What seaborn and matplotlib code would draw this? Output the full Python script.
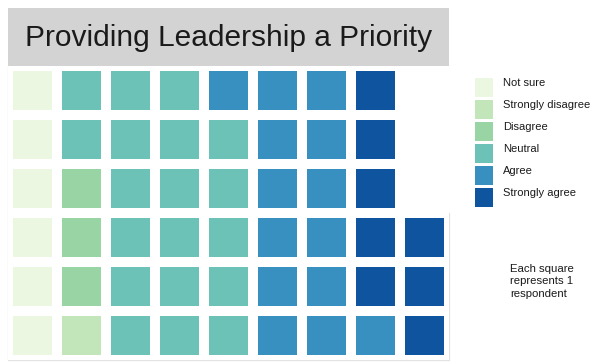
import numpy as np
import matplotlib
matplotlib.use("Agg")
import matplotlib.pyplot as plt
from matplotlib.colors import ListedColormap
from matplotlib.patches import Rectangle
import seaborn as sns

title = "Providing Leadership a Priority"
categories = ["Not sure", "Strongly disagree", "Disagree", "Neutral", "Agree", "Strongly agree"]
counts = [6, 1, 3, 19, 14, 8]
colors = ["#ecf7e2", "#c2e5b9", "#98d4a4", "#6cc2b6", "#3790c0", "#0f549e"]
note = "Each square\nrepresents 1\nrespondent"
n_rows = 6

sns.set_theme(style="white")
plt.rcParams["font.family"] = ["Liberation Sans", "DejaVu Sans"]

# build waffle grid: fill column-major, bottom to top
codes = np.repeat(np.arange(len(categories)), counts)
n_cols = int(np.ceil(len(codes) / n_rows))
grid = np.full((n_rows, n_cols), np.nan)
for i, c in enumerate(codes):
    col = i // n_rows
    row = n_rows - 1 - (i % n_rows)
    grid[row, col] = c
n_last = len(codes) - (n_cols - 1) * n_rows

fig = plt.figure(figsize=(6, 3.63), dpi=100)
W, H = 600, 363

# title box
fig.patches.append(Rectangle((8 / W, 1 - 66 / H), 441 / W, 58 / H,
                             transform=fig.transFigure, facecolor="#d3d3d3",
                             edgecolor="none", zorder=0))
fig.text((8 + 441 / 2) / W, 1 - 38 / H, title, ha="center", va="center",
         fontsize=21.5, color="#1a1a1a")

ax = fig.add_axes([8 / W, 1 - 360 / H, 441 / W, 294 / H])
cmap = ListedColormap(colors)
sns.heatmap(grid, ax=ax, cmap=cmap, vmin=-0.5, vmax=len(categories) - 0.5,
            cbar=False, linewidths=5.8, linecolor="white", square=False,
            xticklabels=False, yticklabels=False)
ax.set_facecolor("white")
# faint outline around the filled area
ox = [0, n_cols - 1, n_cols - 1, n_cols, n_cols, 0, 0]
oy = [0, 0, n_rows - n_last, n_rows - n_last, n_rows, n_rows, 0]
ax.plot(ox, oy, color="#e2e2e2", lw=0.9, clip_on=False, zorder=0.5)

# legend (key squares with labels)
for i, (c, lab) in enumerate(zip(colors, categories)):
    top = 78 + 22 * i
    fig.patches.append(Rectangle((475 / W, 1 - (top + 19) / H), 18 / W, 19 / H,
                                 transform=fig.transFigure, facecolor=c,
                                 edgecolor="none"))
    fig.text(503 / W, 1 - (top + 4.5) / H, lab, ha="left", va="center",
             fontsize=8, color="#1a1a1a")

fig.text(510 / W, 1 - 264 / H, note, ha="left", va="top", fontsize=8.2,
         linespacing=1.3, color="#1a1a1a")

fig.savefig("out.png", dpi=100)
